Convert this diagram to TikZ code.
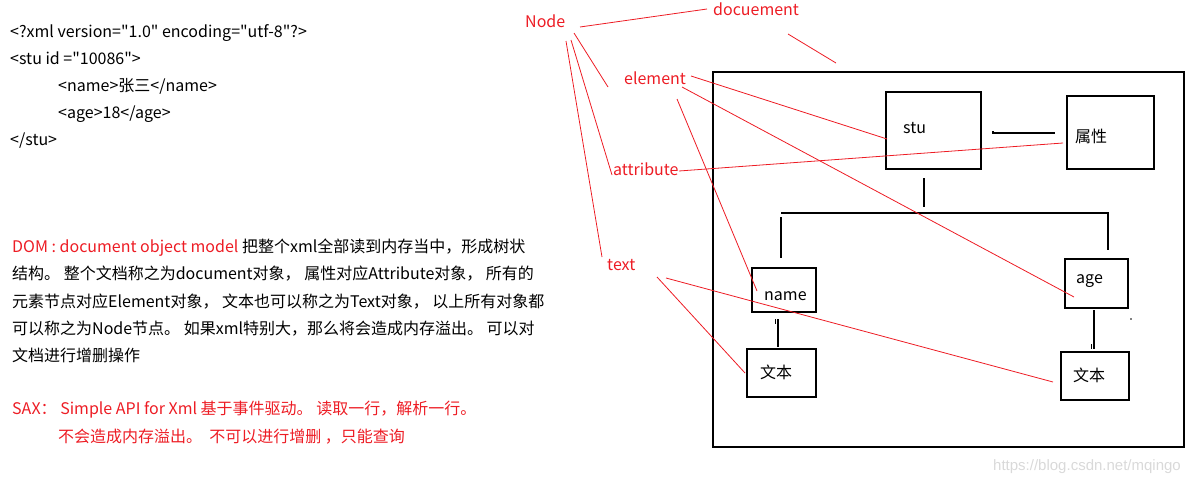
\documentclass[tikz,border=0pt]{standalone}
\usepackage{fontspec}
\setmainfont{Noto Sans CJK SC}[Ligatures=TeXOff]
\newfontfamily\marque{Liberation Sans}
\usepackage{tikz}
\usetikzlibrary{arrows,shapes,positioning}
\definecolor{rouge}{RGB}{237,28,36}
\begin{document}
\begin{tikzpicture}[x=1pt,y=-1pt]
%styles : textes, boites et traits
\tikzset{mot/.style={anchor=base west,inner sep=0,font=\fontsize{16}{19}\selectfont},
etiquette/.style={mot,text=rouge},
boite/.style={draw,line width=1.3pt,inner sep=0},
trait/.style={line width=1.3pt},
renvoi/.style={rouge,line width=0.8pt}}
\useasboundingbox (0,0) rectangle (1200,482);
%le fichier xml
\node[mot] (x1) at (10,37) {<?xml version="1.0" encoding="utf-8"?>};
\node[mot] (x2) at (10,64) {<stu id ="10086">};
\node[mot] (x3) at (58,91) {<name>张三</name>};
\node[mot] (x4) at (58,118) {<age>18</age>};
\node[mot] (x5) at (10,145) {</stu>};
%explications DOM et SAX
\node[mot] (d1) at (12,252) {\textcolor{rouge}{DOM : document object model} 把整个xml全部读到内存当中，形成树状};
\node[mot] (d2) at (12,279) {结构。 整个文档称之为document对象， 属性对应Attribute对象， 所有的};
\node[mot] (d3) at (12,307) {元素节点对应Element对象， 文本也可以称之为Text对象， 以上所有对象都};
\node[mot] (d4) at (12,334) {可以称之为Node节点。 如果xml特别大，那么将会造成内存溢出。 可以对};
\node[mot] (d5) at (12,361) {文档进行增删操作};
\node[etiquette] (s1) at (12,414) {SAX： Simple API for Xml 基于事件驱动。 读取一行，解析一行。};
\node[etiquette] (s2) at (58,442) {不会造成内存溢出。 \ 不可以进行增删 ，只能查询};
%l'arbre
\node[boite,line width=1.8pt,minimum width=471pt,minimum height=375pt] (doc) at (948.5,259.5) {};
\node[boite,minimum width=95pt,minimum height=77pt] (stu) at (933.5,130.5) {};
\node[boite,minimum width=87pt,minimum height=73pt] (attr) at (1110.5,132.5) {};
\node[boite,minimum width=64pt,minimum height=44pt] (name) at (784,290) {};
\node[boite,minimum width=63pt,minimum height=49pt] (age) at (1096.5,283.5) {};
\node[boite,minimum width=69pt,minimum height=48pt] (txta) at (781.5,373) {};
\node[boite,minimum width=68pt,minimum height=48pt] (txtb) at (1095,376) {};
\node[mot] (stut) at (903,133) {stu};
\node[mot] (attrt) at (1075,142) {属性};
\node[mot] (namet) at (764,300) {name};
\node[mot] (aget) at (1076,283) {age};
\node[mot] (txtat) at (760,378) {文本};
\node[mot] (txtbt) at (1073,381) {文本};
\draw[trait] (993,131) -- (993,133) -- (1055,133);
\draw[trait] (924,178) -- (924,207);
\draw[trait] (781,213) -- (1108,213) -- (1108,250);
\draw[trait] (781,217) -- (781,258);
\draw[trait] (778,319) -- (778,347);
\draw[line width=0.8pt] (775.5,319) -- (775.5,324);
\draw[trait] (1094,310) -- (1094,349);
\draw[line width=0.8pt] (1091.5,344) -- (1091.5,349);
\fill (1131,319) circle (0.8);
%les etiquettes rouges
\node[etiquette] (node) at (525,27) {Node};
\node[etiquette] (docu) at (713,15) {docuement};
\node[etiquette] (elem) at (624,84) {element};
\node[etiquette] (attri) at (613,175) {attribute};
\node[etiquette] (text) at (607,270) {text};
\draw[renvoi] (580,27) -- (707,9);
\draw[renvoi] (788,34) -- (836,63);
\draw[renvoi] (574,33) -- (608,87);
\draw[renvoi] (571,40) -- (612,175);
\draw[renvoi] (566,41) -- (602,257);
\draw[renvoi] (691,76) -- (887,139);
\draw[renvoi] (682,87) -- (1074,297);
\draw[renvoi] (677,99) -- (757,291);
\draw[renvoi] (679,171) -- (1063,143);
\draw[renvoi] (657,277) -- (745,373);
\draw[renvoi] (666,278) -- (1053,382);
\node[mot,font=\marque\fontsize{15}{18}\selectfont,text=black!15] (wm) at (993,470) {https://blog.csdn.net/mqingo};
\end{tikzpicture}
\end{document}
